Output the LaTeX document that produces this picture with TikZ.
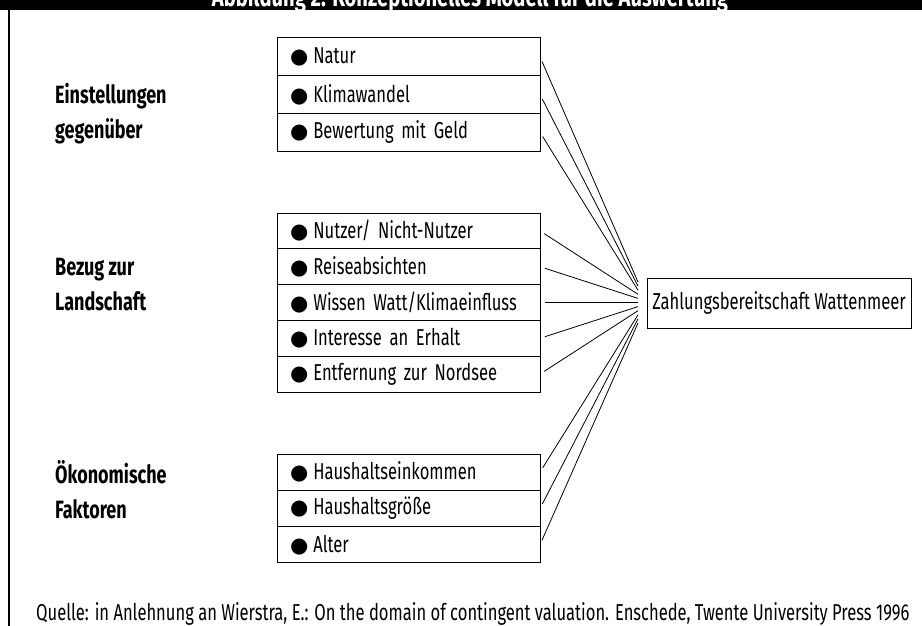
\documentclass[tikz,border=0pt]{standalone}
\usepackage{fontspec}
\setmainfont{Fira Sans}[FakeStretch=0.72]
\newfontfamily\symfont{DejaVu Sans}
\usetikzlibrary{positioning}

\newcommand{\itemfont}{\fontsize{23}{27}\selectfont}
\newcommand{\bul}{{\symfont\fontsize{21}{21}\selectfont ●}\hspace{5pt}}

\begin{document}
\begin{tikzpicture}[x=1pt,y=-1pt,
	item/.style={draw,line width=1pt,outer sep=0pt,minimum width=263pt,
		minimum height=#1,inner xsep=13pt,text width=237pt,align=left,font=\itemfont},
	item/.default=36.3pt,
	group/.style={anchor=west,inner sep=0pt,align=left,font=\bfseries\fontsize{25}{35}\selectfont},
	link/.style={line width=0.8pt,shorten <=5pt}]

	\useasboundingbox (0,0) rectangle (922,626);

	% title bar, cut at the top
	\begin{scope}
	\clip (0,0) rectangle (922,10);
	\fill (0,0) rectangle (922,10);
	\node[anchor=base,inner sep=0pt,text=white,font=\bfseries\fontsize{28}{30}\selectfont] (title) at (470,7) {Abbildung 2: Konzeptionelles Modell für die Auswertung};
	\end{scope}
	\draw[line width=1.5pt] (9,10) -- (9,626);

	% attitudes
	\node[group] (g1) at (55,114) {Einstellungen\\gegenüber};
	\node[item=37.7pt,anchor=north west] (a1) at (277,38) {\bul Natur};
	\node[item=37.7pt,below=0pt of a1] (a2) {\bul Klimawandel};
	\node[item=37.7pt,below=0pt of a2] (a3) {\bul Bewertung mit Geld};

	% landscape
	\node[group] (g2) at (55,285) {Bezug zur\\Landschaft};
	\node[item=35.8pt,anchor=north west] (b1) at (277,213) {\bul Nutzer/ Nicht-Nutzer};
	\node[item=35.8pt,below=0pt of b1] (b2) {\bul Reiseabsichten};
	\node[item=35.8pt,below=0pt of b2] (b3) {\bul Wissen Watt/Klimaeinfluss};
	\node[item=35.8pt,below=0pt of b3] (b4) {\bul Interesse an Erhalt};
	\node[item=35.8pt,below=0pt of b4] (b5) {\bul Entfernung zur Nordsee};

	% economic
	\node[group] (g3) at (55,490) {Ökonomische\\Faktoren};
	\node[item,anchor=north west] (c1) at (277,454) {\bul Haushaltseinkommen};
	\node[item,below=0pt of c1] (c2) {\bul Haushaltsgröße};
	\node[item,below=0pt of c2] (c3) {\bul Alter};

	\node[draw,line width=1pt,minimum width=264pt,minimum height=50pt,font=\itemfont] (z) at (779,303) {Zahlungsbereitschaft Wattenmeer};

	\foreach \i in {1,...,11}
		\coordinate (e\i) at (638,{282+4.1*(\i-1)});
	\foreach \s [count=\i] in {a1,a2,a3,b1,b2,b3,b4,b5,c1,c2,c3}
		\draw[link] (\s.east) -- (e\i);

	\node[anchor=base west,inner sep=0pt,font=\itemfont] (src) at (36,620) {Quelle: in Anlehnung an Wierstra, E.: On the domain of contingent valuation. Enschede, Twente University Press 1996};
\end{tikzpicture}
\end{document}
